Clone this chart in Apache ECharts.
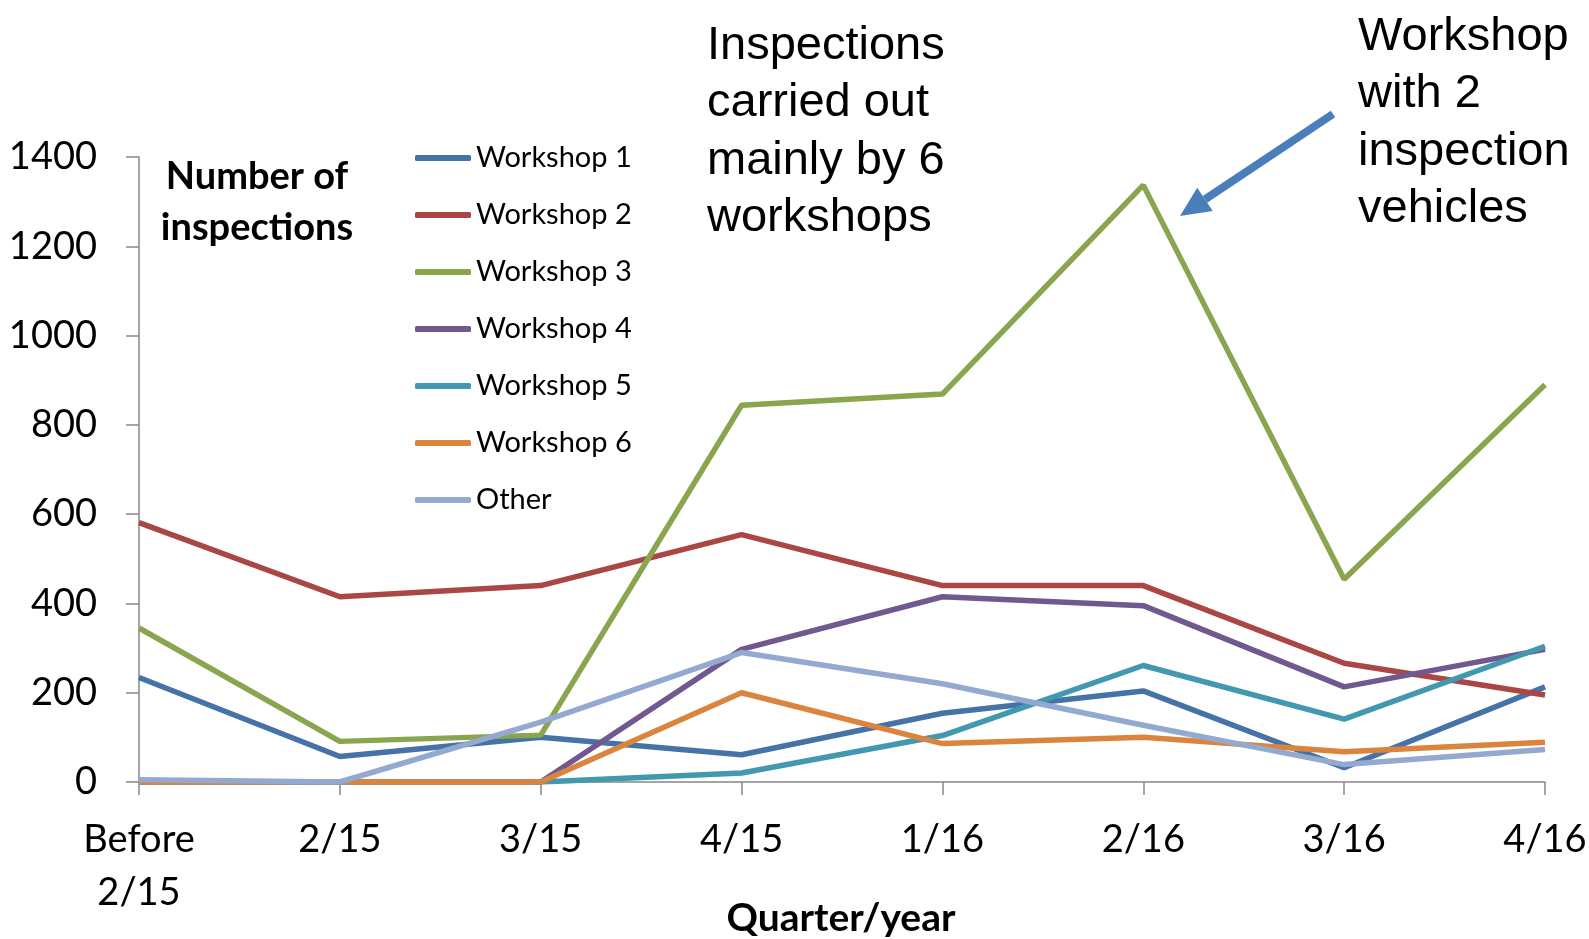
<!DOCTYPE html>
<html>
<head>
<meta charset="utf-8">
<title>Number of inspections</title>
<script src="https://cdn.jsdelivr.net/npm/echarts@6/dist/echarts.min.js"></script>
<style>
    html, body { margin: 0; padding: 0; background: #fff; }
    #chart { width: 1589px; height: 939px; }
</style>
</head>
<body>
<div id="chart"></div>
<script>
(function() {

    // quarters on the x axis
    var quarters = ['Before\n2/15', '2/15', '3/15', '4/15', '1/16', '2/16', '3/16', '4/16'];

    // inspections per workshop
    var workshop1 = [234, 57, 100, 61, 154, 204, 32, 213];
    var workshop2 = [581, 415, 440, 554, 440, 440, 266, 195];
    var workshop3 = [345, 91, 105, 844, 869, 1337, 454, 890];
    var workshop4 = [0, 0, 0, 297, 415, 395, 213, 297];
    var workshop5 = [0, 0, 0, 20, 104, 261, 141, 304];
    var workshop6 = [0, 0, 0, 200, 86, 100, 68, 89];
    var other = [5, 0, 134, 290, 220, 127, 39, 73];

    var yTicks = [0, 200, 400, 600, 800, 1000, 1200, 1400];

    var names = ['Workshop 1', 'Workshop 2', 'Workshop 3', 'Workshop 4', 'Workshop 5', 'Workshop 6', 'Other'];
    var colors = ['#4572A7', '#AA4643', '#89A54E', '#71588F', '#4198AF', '#DB843D', '#93A9CF'];
    var values = [workshop1, workshop2, workshop3, workshop4, workshop5, workshop6, other];

    var calibri = 'Lato, "Noto Sans", sans-serif';
    var arial = '"Liberation Sans", Arial, sans-serif';

    // arrow pointing at the 2/16 peak (annotation only)
    var arrowStart = [1333, 114];
    var arrowTip = [1180, 216];
    var dx = arrowTip[0] - arrowStart[0], dy = arrowTip[1] - arrowStart[1];
    var len = Math.sqrt(dx * dx + dy * dy);
    var ux = dx / len, uy = dy / len;
    var headLen = 30, headHalf = 14;
    var bx = arrowTip[0] - ux * headLen, by = arrowTip[1] - uy * headLen;

    var series = names.map(function(name, i) {
        return {
            name: name,
            type: 'line',
            data: values[i],
            symbol: 'none',
            smooth: false,
            lineStyle: { color: colors[i], width: 5.5 },
            itemStyle: { color: colors[i] }
        };
    });

    var myChart = echarts.init(document.getElementById('chart'));
    myChart.setOption({
        animation: false,
        backgroundColor: '#fff',
        grid: {
            left: 139,
            right: 44,
            top: 157,
            bottom: 157,
            containLabel: false,
            outerBoundsMode: 'none'
        },
        legend: {
            orient: 'vertical',
            left: 410,
            top: 138,
            icon: 'roundRect',
            itemWidth: 56,
            itemHeight: 6,
            itemGap: 27,
            textStyle: {
                fontFamily: calibri,
                fontSize: 29,
                lineHeight: 30,
                color: '#000'
            },
            data: names
        },
        xAxis: {
            type: 'category',
            boundaryGap: false,
            data: quarters,
            axisLine: { lineStyle: { color: '#868686', width: 1.5 } },
            axisTick: { show: true, length: 13, interval: 0, lineStyle: { color: '#868686', width: 1.5 } },
            axisLabel: {
                interval: 0,
                margin: 31,
                fontFamily: calibri,
                fontSize: 38,
                lineHeight: 53,
                color: '#000'
            },
            splitLine: { show: false }
        },
        yAxis: {
            type: 'value',
            min: yTicks[0],
            max: yTicks[yTicks.length - 1],
            interval: 200,
            axisLine: { show: true, lineStyle: { color: '#868686', width: 1.5 } },
            axisTick: { show: true, length: 13, lineStyle: { color: '#868686', width: 1.5 } },
            axisLabel: {
                margin: 42,
                fontFamily: calibri,
                fontSize: 38,
                color: '#000',
                formatter: function(v) { return String(v); }
            },
            splitLine: { show: false }
        },
        series: series,
        graphic: [{
            type: 'text',
            x: 257,
            y: 151,
            style: {
                text: 'Number of\ninspections',
                fontFamily: calibri,
                fontWeight: 'bold',
                fontSize: 38,
                lineHeight: 51,
                fill: '#000',
                align: 'center'
            }
        }, {
            // x axis title
            type: 'text',
            x: 841,
            y: 918,
            style: {
                text: 'Quarter/year',
                fontFamily: calibri,
                fontWeight: 'bold',
                fontSize: 39,
                fill: '#000',
                align: 'center',
                verticalAlign: 'middle'
            }
        }, {
            type: 'text',
            x: 707,
            y: 17,
            style: {
                text: 'Inspections\ncarried out\nmainly by 6\nworkshops',
                fontFamily: arial,
                fontSize: 47,
                lineHeight: 57.5,
                fill: '#000'
            }
        }, {
            type: 'text',
            x: 1358,
            y: 8,
            style: {
                text: 'Workshop\nwith 2\ninspection\nvehicles',
                fontFamily: arial,
                fontSize: 47,
                lineHeight: 57.5,
                fill: '#000'
            }
        }, {
            type: 'line',
            shape: { x1: arrowStart[0], y1: arrowStart[1], x2: bx, y2: by },
            style: { stroke: '#4A7EBB', lineWidth: 8 }
        }, {
            type: 'polygon',
            shape: {
                points: [
                    arrowTip,
                    [bx - uy * headHalf, by + ux * headHalf],
                    [bx + uy * headHalf, by - ux * headHalf]
                ]
            },
            style: { fill: '#4A7EBB' }
        }]
    });

})();
</script>
</body>
</html>
